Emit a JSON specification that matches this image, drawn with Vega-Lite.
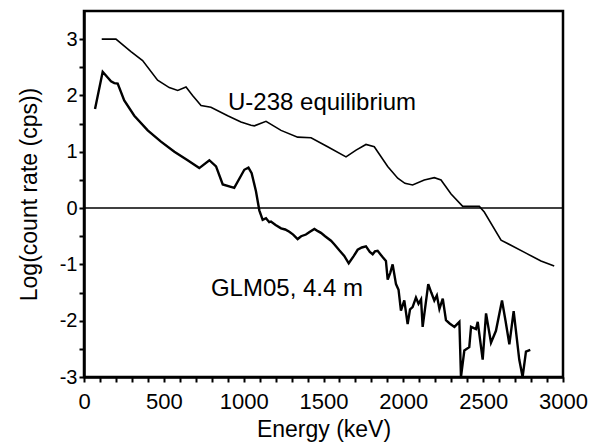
{
  "$schema": "https://vega.github.io/schema/vega-lite/v6.json",
  "width": 479,
  "height": 366,
  "autosize": {"type": "none"},
  "padding": {"left": 84, "top": 11, "right": 38, "bottom": 68},
  "background": "white",
  "config": {
    "view": {"stroke": "#000000", "strokeWidth": 2.5},
    "font": "Liberation Sans"
  },
  "data": {"values": [
    {"series": "zero", "energy": 0, "energyEnd": 3000, "value": 0},
    {"series": "label", "energy": 902, "value": 1.75, "text": "U-238 equilibrium"},
    {"series": "label", "energy": 795, "value": -1.56, "text": "GLM05, 4.4 m"},
    {"series": "U-238", "energy": 111, "value": 3.0}, {"series": "U-238", "energy": 200, "value": 3.0},
    {"series": "U-238", "energy": 294, "value": 2.78}, {"series": "U-238", "energy": 367, "value": 2.62},
    {"series": "U-238", "energy": 461, "value": 2.27}, {"series": "U-238", "energy": 534, "value": 2.14},
    {"series": "U-238", "energy": 587, "value": 2.09}, {"series": "U-238", "energy": 639, "value": 2.15},
    {"series": "U-238", "energy": 680, "value": 2.0}, {"series": "U-238", "energy": 733, "value": 1.82},
    {"series": "U-238", "energy": 795, "value": 1.79}, {"series": "U-238", "energy": 900, "value": 1.64},
    {"series": "U-238", "energy": 983, "value": 1.53}, {"series": "U-238", "energy": 1046, "value": 1.47},
    {"series": "U-238", "energy": 1067, "value": 1.46}, {"series": "U-238", "energy": 1140, "value": 1.54},
    {"series": "U-238", "energy": 1234, "value": 1.38}, {"series": "U-238", "energy": 1338, "value": 1.26},
    {"series": "U-238", "energy": 1422, "value": 1.25}, {"series": "U-238", "energy": 1526, "value": 1.09},
    {"series": "U-238", "energy": 1641, "value": 0.91}, {"series": "U-238", "energy": 1704, "value": 1.03},
    {"series": "U-238", "energy": 1766, "value": 1.13}, {"series": "U-238", "energy": 1818, "value": 1.09},
    {"series": "U-238", "energy": 1902, "value": 0.74}, {"series": "U-238", "energy": 1965, "value": 0.53},
    {"series": "U-238", "energy": 2010, "value": 0.44}, {"series": "U-238", "energy": 2058, "value": 0.41},
    {"series": "U-238", "energy": 2131, "value": 0.5}, {"series": "U-238", "energy": 2194, "value": 0.54},
    {"series": "U-238", "energy": 2236, "value": 0.5}, {"series": "U-238", "energy": 2299, "value": 0.25},
    {"series": "U-238", "energy": 2372, "value": 0.03}, {"series": "U-238", "energy": 2476, "value": 0.03},
    {"series": "U-238", "energy": 2507, "value": -0.07}, {"series": "U-238", "energy": 2612, "value": -0.57},
    {"series": "U-238", "energy": 2674, "value": -0.66}, {"series": "U-238", "energy": 2768, "value": -0.8},
    {"series": "U-238", "energy": 2862, "value": -0.94}, {"series": "U-238", "energy": 2945, "value": -1.03},
    {"series": "GLM05", "energy": 69, "value": 1.76}, {"series": "GLM05", "energy": 117, "value": 2.42},
    {"series": "GLM05", "energy": 169, "value": 2.25}, {"series": "GLM05", "energy": 190, "value": 2.22},
    {"series": "GLM05", "energy": 211, "value": 2.21}, {"series": "GLM05", "energy": 252, "value": 1.91},
    {"series": "GLM05", "energy": 315, "value": 1.64}, {"series": "GLM05", "energy": 399, "value": 1.38},
    {"series": "GLM05", "energy": 482, "value": 1.18}, {"series": "GLM05", "energy": 566, "value": 1.0},
    {"series": "GLM05", "energy": 649, "value": 0.85}, {"series": "GLM05", "energy": 722, "value": 0.71},
    {"series": "GLM05", "energy": 785, "value": 0.85}, {"series": "GLM05", "energy": 827, "value": 0.74},
    {"series": "GLM05", "energy": 869, "value": 0.42}, {"series": "GLM05", "energy": 941, "value": 0.36},
    {"series": "GLM05", "energy": 1004, "value": 0.68}, {"series": "GLM05", "energy": 1030, "value": 0.72},
    {"series": "GLM05", "energy": 1050, "value": 0.62}, {"series": "GLM05", "energy": 1077, "value": 0.3},
    {"series": "GLM05", "energy": 1098, "value": -0.04}, {"series": "GLM05", "energy": 1119, "value": -0.21},
    {"series": "GLM05", "energy": 1140, "value": -0.18}, {"series": "GLM05", "energy": 1160, "value": -0.25},
    {"series": "GLM05", "energy": 1171, "value": -0.24}, {"series": "GLM05", "energy": 1200, "value": -0.3},
    {"series": "GLM05", "energy": 1234, "value": -0.36}, {"series": "GLM05", "energy": 1260, "value": -0.38},
    {"series": "GLM05", "energy": 1286, "value": -0.42}, {"series": "GLM05", "energy": 1310, "value": -0.47},
    {"series": "GLM05", "energy": 1338, "value": -0.55}, {"series": "GLM05", "energy": 1360, "value": -0.5},
    {"series": "GLM05", "energy": 1390, "value": -0.47}, {"series": "GLM05", "energy": 1415, "value": -0.42},
    {"series": "GLM05", "energy": 1443, "value": -0.37}, {"series": "GLM05", "energy": 1465, "value": -0.41},
    {"series": "GLM05", "energy": 1484, "value": -0.44}, {"series": "GLM05", "energy": 1510, "value": -0.5},
    {"series": "GLM05", "energy": 1547, "value": -0.58}, {"series": "GLM05", "energy": 1570, "value": -0.65},
    {"series": "GLM05", "energy": 1599, "value": -0.75}, {"series": "GLM05", "energy": 1630, "value": -0.85},
    {"series": "GLM05", "energy": 1658, "value": -0.98}, {"series": "GLM05", "energy": 1690, "value": -0.85},
    {"series": "GLM05", "energy": 1714, "value": -0.74}, {"series": "GLM05", "energy": 1740, "value": -0.7},
    {"series": "GLM05", "energy": 1766, "value": -0.68}, {"series": "GLM05", "energy": 1790, "value": -0.78},
    {"series": "GLM05", "energy": 1808, "value": -0.82}, {"series": "GLM05", "energy": 1822, "value": -0.77},
    {"series": "GLM05", "energy": 1839, "value": -0.76}, {"series": "GLM05", "energy": 1870, "value": -0.87},
    {"series": "GLM05", "energy": 1891, "value": -0.94}, {"series": "GLM05", "energy": 1902, "value": -1.27},
    {"series": "GLM05", "energy": 1918, "value": -1.15}, {"series": "GLM05", "energy": 1933, "value": -1.0},
    {"series": "GLM05", "energy": 1954, "value": -1.35}, {"series": "GLM05", "energy": 1970, "value": -1.45},
    {"series": "GLM05", "energy": 1985, "value": -1.82}, {"series": "GLM05", "energy": 2006, "value": -1.64},
    {"series": "GLM05", "energy": 2027, "value": -2.06}, {"series": "GLM05", "energy": 2042, "value": -1.8},
    {"series": "GLM05", "energy": 2058, "value": -1.76}, {"series": "GLM05", "energy": 2079, "value": -1.59},
    {"series": "GLM05", "energy": 2095, "value": -1.7}, {"series": "GLM05", "energy": 2111, "value": -1.62},
    {"series": "GLM05", "energy": 2121, "value": -2.11}, {"series": "GLM05", "energy": 2156, "value": -1.35},
    {"series": "GLM05", "energy": 2175, "value": -1.5}, {"series": "GLM05", "energy": 2194, "value": -1.64},
    {"series": "GLM05", "energy": 2210, "value": -1.55}, {"series": "GLM05", "energy": 2226, "value": -1.79},
    {"series": "GLM05", "energy": 2247, "value": -1.61}, {"series": "GLM05", "energy": 2267, "value": -1.99},
    {"series": "GLM05", "energy": 2290, "value": -2.05}, {"series": "GLM05", "energy": 2320, "value": -2.11},
    {"series": "GLM05", "energy": 2351, "value": -2.02}, {"series": "GLM05", "energy": 2361, "value": -3.0},
    {"series": "GLM05", "energy": 2382, "value": -2.53}, {"series": "GLM05", "energy": 2413, "value": -2.47},
    {"series": "GLM05", "energy": 2424, "value": -2.11}, {"series": "GLM05", "energy": 2455, "value": -2.15},
    {"series": "GLM05", "energy": 2466, "value": -2.02}, {"series": "GLM05", "energy": 2497, "value": -2.69},
    {"series": "GLM05", "energy": 2518, "value": -1.87}, {"series": "GLM05", "energy": 2549, "value": -2.39},
    {"series": "GLM05", "energy": 2580, "value": -2.18}, {"series": "GLM05", "energy": 2618, "value": -1.64},
    {"series": "GLM05", "energy": 2640, "value": -2.0}, {"series": "GLM05", "energy": 2664, "value": -2.42},
    {"series": "GLM05", "energy": 2691, "value": -1.83}, {"series": "GLM05", "energy": 2726, "value": -2.69},
    {"series": "GLM05", "energy": 2747, "value": -3.0}, {"series": "GLM05", "energy": 2768, "value": -2.55},
    {"series": "GLM05", "energy": 2795, "value": -2.52}
  ]},
  "encoding": {
    "x": {
      "field": "energy", "type": "quantitative", "title": "Energy (keV)",
      "scale": {"domain": [0, 3000], "nice": false, "zero": false},
      "axis": {
        "values": [0,100,200,300,400,500,600,700,800,900,1000,1100,1200,1300,1400,1500,1600,1700,1800,1900,2000,2100,2200,2300,2400,2500,2600,2700,2800,2900,3000],
        "labelExpr": "datum.value % 500 === 0 ? toString(datum.value) : ''",
        "domain": true, "domainColor": "#000000", "domainWidth": 2.5, "grid": false, "ticks": true,
        "tickSize": 5, "tickColor": "#000000", "tickWidth": 2,
        "labelFontSize": 22, "labelPadding": 9,
        "labelFlush": false, "labelOverlap": false,
        "titleFontSize": 23, "titleFontWeight": "normal", "titlePadding": 6
      }
    },
    "y": {
      "field": "value", "type": "quantitative", "title": "Log(count rate (cps))",
      "scale": {"domain": [-3, 3.5], "nice": false, "zero": false},
      "axis": {
        "values": [-3,-2.5,-2,-1.5,-1,-0.5,0,0.5,1,1.5,2,2.5,3],
        "labelExpr": "datum.value % 1 === 0 ? toString(datum.value) : ''",
        "domain": true, "domainColor": "#000000", "domainWidth": 2.5, "grid": false, "ticks": true,
        "tickSize": 5, "tickColor": "#000000", "tickWidth": 2,
        "labelFontSize": 20, "labelPadding": 2,
        "labelFlush": false, "labelOverlap": false,
        "titleFontSize": 23, "titleFontWeight": "normal", "titlePadding": 18
      }
    }
  },
  "layer": [
    {
      "transform": [{"filter": "datum.series === 'zero'"}],
      "mark": {"type": "rule", "color": "black", "strokeWidth": 1.5},
      "encoding": {"x2": {"field": "energyEnd"}}
    },
    {
      "transform": [{"filter": "datum.series === 'U-238'"}],
      "mark": {"type": "line", "color": "black", "strokeWidth": 1.6, "clip": true}
    },
    {
      "transform": [{"filter": "datum.series === 'GLM05'"}],
      "mark": {"type": "line", "color": "black", "strokeWidth": 2.4, "clip": true}
    },
    {
      "transform": [{"filter": "datum.series === 'label'"}],
      "mark": {"type": "text", "align": "left", "baseline": "alphabetic", "fontSize": 24, "color": "black"},
      "encoding": {"text": {"field": "text"}}
    }
  ]
}
